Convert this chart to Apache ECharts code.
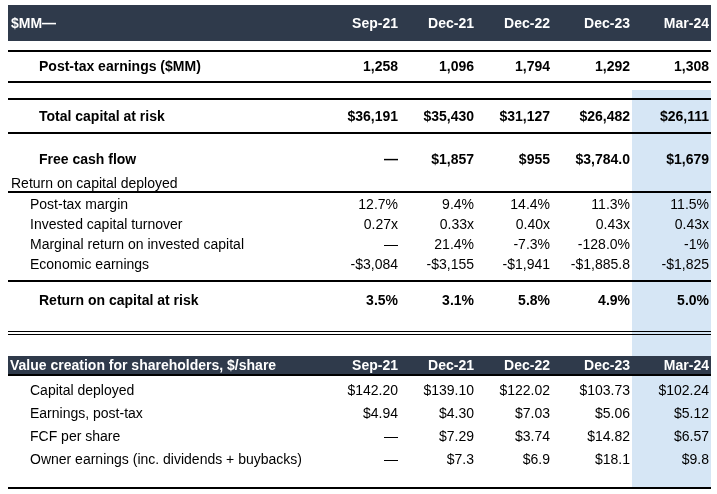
<!DOCTYPE html>
<html>
<head>
<meta charset="utf-8">
<script src="https://cdn.jsdelivr.net/npm/echarts@6/dist/echarts.min.js"></script>
<style>
html,body{margin:0;padding:0;background:#fff;}
#c{width:717px;height:494px;}
</style>
</head>
<body>
<div id="c"></div>
<script>
// ---------- DATA ----------
const periods = ['Sep-21', 'Dec-21', 'Dec-22', 'Dec-23', 'Mar-24'];
const postTaxEarnings = ['1,258', '1,096', '1,794', '1,292', '1,308'];
const totalCapitalAtRisk = ['$36,191', '$35,430', '$31,127', '$26,482', '$26,111'];
const freeCashFlow = ['—', '$1,857', '$955', '$3,784.0', '$1,679'];
const postTaxMargin = ['12.7%', '9.4%', '14.4%', '11.3%', '11.5%'];
const investedCapitalTurnover = ['0.27x', '0.33x', '0.40x', '0.43x', '0.43x'];
const marginalReturn = ['—', '21.4%', '-7.3%', '-128.0%', '-1%'];
const economicEarnings = ['-$3,084', '-$3,155', '-$1,941', '-$1,885.8', '-$1,825'];
const returnOnCapitalAtRisk = ['3.5%', '3.1%', '5.8%', '4.9%', '5.0%'];
const capitalDeployedPerShare = ['$142.20', '$139.10', '$122.02', '$103.73', '$102.24'];
const earningsPerShare = ['$4.94', '$4.30', '$7.03', '$5.06', '$5.12'];
const fcfPerShare = ['—', '$7.29', '$3.74', '$14.82', '$6.57'];
const ownerEarningsPerShare = ['—', '$7.3', '$6.9', '$18.1', '$9.8'];

// ---------- LAYOUT (positions / styles, kept separate from data) ----------
const W = 717, H = 494;
const colRight = [398, 474, 550, 630, 709];
const tableLeft = 8, tableRight = 711;
const DARK = '#2f3a4b', BLUE = '#d6e6f5';
const FONT = '"Liberation Sans", Arial, Helvetica, sans-serif';
const FONT_SIZE = 14;
const TEXT_DY = 1;

const rows = [
  { label: '$MM—', values: periods, y: 23, x: 11, bold: true, header: true },
  { label: 'Post-tax earnings ($MM)', values: postTaxEarnings, y: 66, x: 39, bold: true },
  { label: 'Total capital at risk', values: totalCapitalAtRisk, y: 116, x: 39, bold: true },
  { label: 'Free cash flow', values: freeCashFlow, y: 159, x: 39, bold: true },
  { label: 'Return on capital deployed', values: null, y: 183, x: 11, bold: false },
  { label: 'Post-tax margin', values: postTaxMargin, y: 204, x: 30, bold: false },
  { label: 'Invested capital turnover', values: investedCapitalTurnover, y: 224, x: 30, bold: false },
  { label: 'Marginal return on invested capital', values: marginalReturn, y: 244, x: 30, bold: false },
  { label: 'Economic earnings', values: economicEarnings, y: 264, x: 30, bold: false },
  { label: 'Return on capital at risk', values: returnOnCapitalAtRisk, y: 300, x: 39, bold: true },
  { label: 'Value creation for shareholders, $/share', values: periods, y: 365, x: 10, bold: true, header: true },
  { label: 'Capital deployed', values: capitalDeployedPerShare, y: 390, x: 30, bold: false },
  { label: 'Earnings, post-tax', values: earningsPerShare, y: 413, x: 30, bold: false },
  { label: 'FCF per share', values: fcfPerShare, y: 436, x: 30, bold: false },
  { label: 'Owner earnings (inc. dividends + buybacks)', values: ownerEarningsPerShare, y: 459, x: 30, bold: false }
];

// rectangles: [x0, y0, x1, y1, color]
const fills = [
  [632, 90, tableRight, 487, BLUE],
  [tableLeft, 5, tableRight, 41, DARK],
  [tableLeft, 356, tableRight, 374, DARK]
];
// horizontal rules: [y, thickness]
const rules = [
  [51, 2], [82, 2], [99, 2], [133, 2], [192, 2], [281, 2],
  [331, 1], [334, 1], [375, 2], [488, 2]
];

// build text cells
const cells = [];
rows.forEach(r => {
  cells.push([r.x, r.y + TEXT_DY, r.label, 'left', r.bold ? 1 : 0, r.header ? 1 : 0]);
  if (r.values) {
    r.values.forEach((v, i) => {
      cells.push([colRight[i], r.y + TEXT_DY, v, 'right', r.bold ? 1 : 0, r.header ? 1 : 0]);
    });
  }
});

const chart = echarts.init(document.getElementById('c'), null, { renderer: 'canvas' });
chart.setOption({
  animation: false,
  backgroundColor: '#ffffff',
  grid: { left: 0, right: 0, top: 0, bottom: 0 },
  xAxis: { type: 'value', min: 0, max: W, show: false },
  yAxis: { type: 'value', min: 0, max: H, inverse: true, show: false },
  series: [
    {
      type: 'custom',
      z: 1,
      data: fills.map(f => f.slice(0, 4)),
      encode: { x: [0, 2], y: [1, 3] },
      renderItem: function (params, api) {
        const p0 = api.coord([api.value(0), api.value(1)]);
        const p1 = api.coord([api.value(2), api.value(3)]);
        const f = fills[params.dataIndex];
        return {
          type: 'rect',
          shape: { x: p0[0], y: p0[1], width: p1[0] - p0[0], height: p1[1] - p0[1] },
          style: { fill: f[4] }
        };
      }
    },
    {
      type: 'custom',
      z: 2,
      data: rules.map(r => [tableLeft, r[0], tableRight, r[1]]),
      encode: { x: [0, 2], y: 1 },
      renderItem: function (params, api) {
        const t = api.value(3);
        const p0 = api.coord([api.value(0), api.value(1)]);
        const p1 = api.coord([api.value(2), api.value(1)]);
        const top = Math.round(p0[1] - t / 2);
        return {
          type: 'rect',
          shape: { x: Math.round(p0[0]), y: top, width: Math.round(p1[0] - p0[0]), height: t },
          style: { fill: '#000000' }
        };
      }
    },
    {
      type: 'custom',
      z: 3,
      data: cells.map(c => [c[0], c[1]]),
      encode: { x: 0, y: 1 },
      renderItem: function (params, api) {
        const c = cells[params.dataIndex];
        const p = api.coord([api.value(0), api.value(1)]);
        return {
          type: 'text',
          x: p[0],
          y: p[1],
          style: {
            text: c[2],
            fill: c[5] ? '#ffffff' : '#000000',
            font: (c[4] ? 'bold ' : '') + FONT_SIZE + 'px ' + FONT,
            textAlign: c[3],
            textVerticalAlign: 'middle',
            align: c[3],
            verticalAlign: 'middle'
          }
        };
      }
    }
  ]
});
</script>
</body>
</html>
